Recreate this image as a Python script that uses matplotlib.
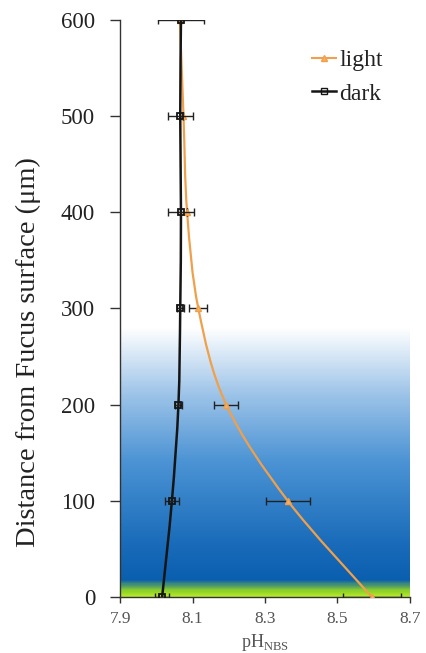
import numpy as np
import matplotlib
matplotlib.use("Agg")
import matplotlib.pyplot as plt
from matplotlib.path import Path
from matplotlib.patches import PathPatch
from matplotlib.colors import LinearSegmentedColormap
from matplotlib.lines import Line2D

# ---- data ----
depth = [0, 100, 200, 300, 400, 500, 600]
ph_light = [8.595, 8.363, 8.193, 8.116, 8.085, 8.075, 8.065]
err_light = [0.08, 0.06, 0.033, 0.025, 0.0, 0.0, 0.0]
ph_dark = [8.016, 8.043, 8.061, 8.066, 8.068, 8.066, 8.068]
err_dark = [0.02, 0.02, 0.01, 0.01, 0.035, 0.035, 0.063]
xticks = [7.9, 8.1, 8.3, 8.5, 8.7]
yticks = [0, 100, 200, 300, 400, 500, 600]
series_names = ["light", "dark"]

plt.rcParams['font.family'] = ['Liberation Serif', 'DejaVu Serif']
plt.rcParams['mathtext.fontset'] = 'custom'
plt.rcParams['mathtext.rm'] = 'Liberation Serif'

fig = plt.figure(figsize=(4.26, 6.53), dpi=100)
ax = fig.add_axes([0.282, 0.0858, 0.68, 0.8836])
ax.set_xlim(7.9, 8.7)
ax.set_ylim(0, 600)

# background gradient (green surface, blue boundary layer fading to white)
cmap = LinearSegmentedColormap.from_list("bl", [
    (0.0, "#b4e62a"), (0.02, "#8cd02a"), (0.06, "#0a5fae"), (0.2, "#1a6cba"),
    (0.5, "#4b93d4"), (0.75, "#9cc3e8"), (1.0, "#ffffff")])
grad = np.linspace(0, 1, 300).reshape(-1, 1)
ax.imshow(grad, extent=[7.9, 8.7, 0, 280], origin='lower', aspect='auto',
          cmap=cmap, zorder=0, interpolation='bilinear')


def smooth_path(xs, ys):
    pts = np.column_stack([xs, ys]).astype(float)
    verts = [tuple(pts[0])]
    codes = [Path.MOVETO]
    n = len(pts)
    for i in range(n - 1):
        p0 = pts[i - 1] if i > 0 else pts[i]
        p1 = pts[i]
        p2 = pts[i + 1]
        p3 = pts[i + 2] if i + 2 < n else pts[i + 1]
        c1 = p1 + (p2 - p0) / 6.0
        c2 = p2 - (p3 - p1) / 6.0
        verts += [tuple(c1), tuple(c2), tuple(p2)]
        codes += [Path.CURVE4] * 3
    return Path(verts, codes)

orange = "#f0a04b"
dark = "#151515"

ax.add_patch(PathPatch(smooth_path(ph_light, depth), fill=False,
                       edgecolor=orange, lw=1.6, zorder=3))
ax.errorbar(ph_light, depth, xerr=err_light, fmt='none', ecolor='#222222',
            elinewidth=1.0, capsize=3, capthick=1.0, zorder=4)
ax.plot(ph_light, depth, ls='none', marker='^', ms=5, mfc='#f5b060',
        mec=orange, zorder=5)

ax.add_patch(PathPatch(smooth_path(ph_dark, depth), fill=False,
                       edgecolor=dark, lw=1.8, zorder=6))
ax.errorbar(ph_dark, depth, xerr=err_dark, fmt='none', ecolor='#222222',
            elinewidth=1.0, capsize=3, capthick=1.0, zorder=7)
ax.plot(ph_dark, depth, ls='none', marker='s', ms=5, mfc='none',
        mec=dark, mew=1.3, zorder=8)

for s in ['top', 'right']:
    ax.spines[s].set_visible(False)
for s in ['left', 'bottom']:
    ax.spines[s].set_color('#333333')
    ax.spines[s].set_linewidth(1.0)

ax.set_yticks(yticks)
ax.set_yticklabels([str(v) for v in yticks], fontsize=16.5, color='#222222')
ax.set_xticks(xticks)
ax.set_xticklabels([f"{v:.1f}" for v in xticks], fontsize=12.5, color='#555555')
ax.tick_params(axis='y', direction='out', length=7, width=1, color='#333333', pad=11)
ax.tick_params(axis='x', direction='out', length=4, width=1, color='#333333', pad=6)

fig.text(28 / 426, 1 - 352 / 653, "Distance from Fucus surface (μm)",
         rotation=90, ha='center', va='center', fontsize=20.5, color='#222222')
ax.set_xlabel(r"pH$_{\mathrm{NBS}}$", fontsize=13, color='#555555', labelpad=4)

handles = [
    Line2D([], [], color=orange, marker='^', ms=5, mfc='#f5b060', mec=orange, lw=1.5),
    Line2D([], [], color=dark, marker='s', ms=5, mfc='none', mec=dark, lw=1.8),
]
ax.legend(handles, series_names, loc='upper right', bbox_to_anchor=(0.98, 0.985),
          frameon=False, fontsize=17, handlelength=1.0, handletextpad=0.15,
          labelspacing=0.5, labelcolor='#222222')

fig.savefig("out.png", dpi=100)
